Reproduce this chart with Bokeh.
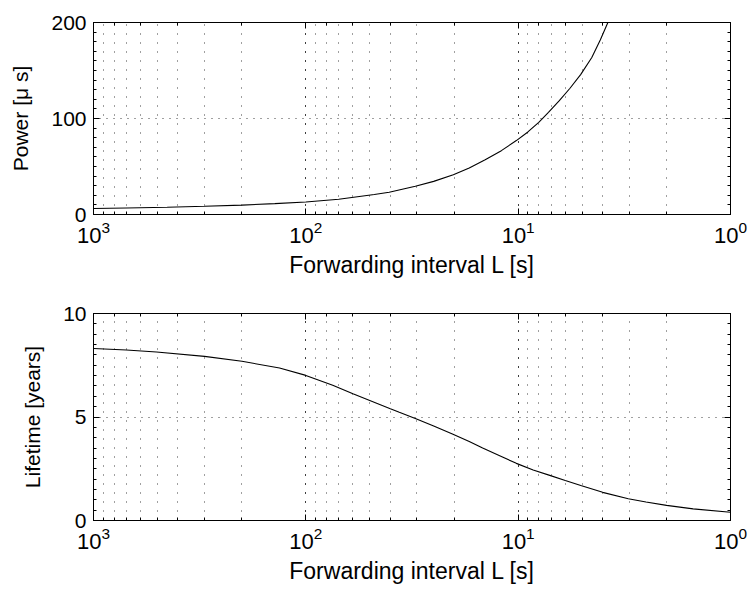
from bokeh.plotting import figure
from bokeh.models import Range1d, LogAxis, LinearAxis, FixedTicker, LogTicker
from bokeh.layouts import column
from bokeh.embed import file_html
from bokeh.resources import INLINE

# Forwarding interval L [s] and values
power_L = [1000, 700, 450, 300, 200, 140, 100, 70, 47.6, 40.5, 30.5, 25, 20.2, 17, 14.3, 12, 10.2, 9, 8.0, 7.2, 6.4, 5.7, 5.07, 4.5, 4.1, 3.78]
power_us = [6.2, 6.8, 7.6, 8.6, 9.8, 11.3, 13.0, 15.9, 20.8, 23.2, 29.4, 34.5, 41.3, 48.5, 57.0, 66.5, 77.0, 86.0, 96.0, 106.5, 118.6, 131.5, 146.0, 163.5, 182.0, 200.0]

life_L = [1000, 700, 505, 300, 200, 133, 100, 74.7, 60, 50, 40, 36.3, 30.5, 25, 20.4, 17, 14.7, 12, 10.2, 8.5, 7.1, 6, 5.07, 4, 3.03, 2.5, 2.0, 1.5, 1.0]
life_years = [8.31, 8.24, 8.14, 7.93, 7.69, 7.37, 7.01, 6.53, 6.12, 5.80, 5.40, 5.23, 4.93, 4.57, 4.18, 3.82, 3.50, 3.09, 2.76, 2.44, 2.18, 1.93, 1.69, 1.36, 1.05, 0.89, 0.73, 0.56, 0.40]

x_label = "Forwarding interval L [s]"
power_label = "Power [\u03bc s]"
life_label = "Lifetime [years]"
power_ticks = [0, 100, 200]
power_minor = [10, 20, 30, 40, 50, 60, 70, 80, 90, 110, 120, 130, 140, 150, 160, 170, 180, 190]
life_ticks = [0, 5, 10]
life_minor = [0.5, 1, 1.5, 2, 2.5, 3, 3.5, 4, 4.5, 5.5, 6, 6.5, 7, 7.5, 8, 8.5, 9, 9.5]

FONT = "Liberation Sans"


def style_axis(ax, labels=True, tick_size="21px", label_size="21px"):
    ax.axis_line_color = "black"
    ax.major_tick_line_color = "black"
    ax.minor_tick_line_color = "black"
    ax.major_tick_in = 6
    ax.major_tick_out = 0
    ax.minor_tick_in = 3
    ax.minor_tick_out = 0
    ax.major_label_text_font = FONT
    ax.axis_label_text_font = FONT
    ax.axis_label_text_font_style = "normal"
    ax.axis_label_text_color = "black"
    ax.major_label_text_color = "black"
    if labels:
        ax.major_label_text_font_size = tick_size
        ax.axis_label_text_font_size = label_size
    else:
        ax.major_label_text_font_size = "2px"
        ax.major_label_text_alpha = 0
        ax.major_label_standoff = 0


def make(height, top_b, bottom_b, xs, ys, ylabel, yend, yticks, yminor):
    p = figure(width=750, height=height, x_axis_type="log",
               x_range=Range1d(1000, 1), y_range=Range1d(0, yend),
               output_backend="svg", toolbar_location=None,
               min_border_left=93, min_border_right=20,
               min_border_top=top_b, min_border_bottom=bottom_b)
    p.background_fill_color = "white"
    p.border_fill_color = "white"
    p.outline_line_color = "black"
    p.outline_line_width = 1

    p.line(xs, ys, line_color="black", line_width=1.1)

    yt = FixedTicker(ticks=yticks, minor_ticks=yminor)
    p.yaxis.ticker = yt
    p.xaxis.axis_label = x_label
    p.yaxis.axis_label = ylabel
    for ax in p.xaxis:
        style_axis(ax, tick_size="22px", label_size="23px")
        ax.major_label_standoff = 6
        ax.axis_label_standoff = 6
    for ax in p.yaxis:
        style_axis(ax, tick_size="21px", label_size="21px")
        ax.major_label_standoff = 7
        ax.axis_label_standoff = 16

    top = LogAxis(ticker=LogTicker())
    style_axis(top, labels=False)
    p.add_layout(top, "above")
    right = LinearAxis(ticker=FixedTicker(ticks=yticks, minor_ticks=yminor))
    style_axis(right, labels=False)
    p.add_layout(right, "right")

    p.xgrid.grid_line_color = "black"
    p.xgrid.grid_line_alpha = 0.75
    p.xgrid.grid_line_dash = "1 8"
    p.xgrid.minor_grid_line_color = "black"
    p.xgrid.minor_grid_line_alpha = 0.75
    p.xgrid.minor_grid_line_dash = "1 8"
    p.ygrid.grid_line_color = "black"
    p.ygrid.grid_line_alpha = 0.75
    p.ygrid.grid_line_dash = "1 6"
    return p


p1 = make(295, 22, 81, power_L, power_us, power_label, 200, power_ticks, power_minor)
p2 = make(295, 18, 70, life_L, life_years, life_label, 10, life_ticks, life_minor)

layout = column(p1, p2, spacing=0)
open("out.html", "w").write(file_html(layout, INLINE))
